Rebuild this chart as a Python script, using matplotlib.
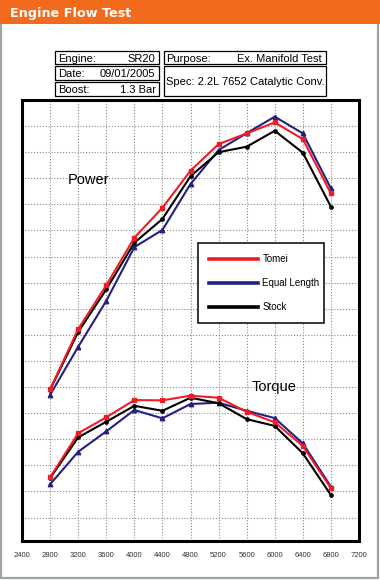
import matplotlib
matplotlib.use("Agg")
import matplotlib.pyplot as plt
from matplotlib.patches import Rectangle
from matplotlib.lines import Line2D

# engine speed (rpm) and readings (arbitrary units, one grid step = 10)
rpm = [2800, 3200, 3600, 4000, 4400, 4800, 5200, 5600, 6000, 6400, 6800]

power_tomei = [59.1, 82.2, 99.0, 117.2, 128.7, 142.9, 153.1, 157.2, 161.4, 155.0, 134.2]
power_equal = [57.0, 75.4, 93.0, 113.6, 120.2, 137.8, 150.8, 157.3, 163.6, 157.2, 136.1]
power_stock = [58.9, 81.1, 97.4, 115.3, 124.4, 140.8, 150.0, 152.1, 158.2, 149.8, 129.1]

torque_tomei = [25.4, 42.3, 48.4, 55.0, 54.9, 56.7, 55.9, 50.5, 46.5, 37.4, 21.2]
torque_equal = [22.7, 35.2, 43.0, 51.2, 48.0, 53.5, 54.0, 50.9, 48.1, 38.4, 21.8]
torque_stock = [25.1, 40.7, 46.7, 52.8, 50.9, 55.9, 53.8, 47.7, 45.1, 34.6, 18.6]

xticks = [2400, 2800, 3200, 3600, 4000, 4400, 4800, 5200, 5600, 6000, 6400, 6800, 7200]
series_names = ["Tomei", "Equal Length", "Stock"]

RED = "#ee1c25"
BLUE = "#23207f"
BLACK = "#000000"

plt.rcParams['font.family'] = ['Liberation Sans', 'DejaVu Sans']

W, H = 380, 580
fig = plt.figure(figsize=(W / 100, H / 100), dpi=100)

def fx(px):
    return px / W

def fy(py):
    return 1 - py / H

def box(x0, y0, x1, y1, lw=0.9):
    fig.patches.append(Rectangle((fx(x0), fy(y1)), fx(x1) - fx(x0), (y1 - y0) / H,
                                 transform=fig.transFigure, fill=False,
                                 edgecolor="black", lw=lw))

# outer gray border + orange header
fig.patches.append(Rectangle((fx(1), fy(578)), fx(378) - fx(1), (578 - 20) / H,
                             transform=fig.transFigure, fill=False,
                             edgecolor="#a0a4a8", lw=1.6))
fig.patches.append(Rectangle((0, fy(24)), 1, 24 / H, transform=fig.transFigure,
                             color="#f26b1d", lw=0))
fig.text(fx(9.5), fy(16.7), "Engine Flow Test", color="white", fontsize=9.2,
         fontweight="bold", va="baseline", family="DejaVu Sans")

# info boxes
box(54.5, 50.7, 159.3, 64.3)
box(54.5, 66.3, 159.3, 80.0)
box(54.5, 82.0, 159.3, 96.3)
box(164.0, 50.7, 326.3, 64.3)
box(164.0, 66.3, 326.3, 96.3)
fs = 8
fig.text(fx(58), fy(61.7), "Engine:", fontsize=fs, va="baseline")
fig.text(fx(155.5), fy(61.7), "SR20", fontsize=fs, va="baseline", ha="right")
fig.text(fx(58), fy(77.2), "Date:", fontsize=fs, va="baseline")
fig.text(fx(155.5), fy(77.2), "09/01/2005", fontsize=fs, va="baseline", ha="right")
fig.text(fx(58), fy(92.7), "Boost:", fontsize=fs, va="baseline")
fig.text(fx(155.5), fy(92.7), "1.3 Bar", fontsize=fs, va="baseline", ha="right")
fig.text(fx(166), fy(61.7), "Purpose:", fontsize=fs, va="baseline")
fig.text(fx(321.5), fy(61.7), "Ex. Manifold Test", fontsize=fs, va="baseline", ha="right")
fig.text(fx(166), fy(84.7), "Spec: 2.2L 7652 Catalytic Conv.", fontsize=fs, va="baseline")

# main chart
ax = fig.add_axes([fx(22), fy(541), fx(359) - fx(22), (541 - 100) / H])
ax.set_xlim(2400, 7200)
ax.set_ylim(1, 170)
ax.set_xticks(xticks)
ax.set_xticklabels([str(t) for t in xticks])
ax.set_yticks(range(10, 161, 10))
ax.set_yticklabels([])
ax.tick_params(length=0, labelsize=5.5, pad=8, labelcolor="#333333")
ax.grid(True, linestyle=(0, (1, 1.6)), color="#8a8a8a", lw=0.8)
for sp in ax.spines.values():
    sp.set_linewidth(2.2)

kw = dict(lw=1.5, ms=3.2)
ax.plot(rpm, power_equal, color=BLUE, marker="^", zorder=3, **kw)
ax.plot(rpm, power_stock, color=BLACK, marker="o", zorder=4, lw=1.5, ms=2.4)
ax.plot(rpm, power_tomei, color=RED, marker="s", zorder=5, **kw)
ax.plot(rpm, torque_equal, color=BLUE, marker="^", zorder=3, **kw)
ax.plot(rpm, torque_stock, color=BLACK, marker="o", zorder=4, lw=1.5, ms=2.4)
ax.plot(rpm, torque_tomei, color=RED, marker="s", zorder=5, **kw)

ax.text(3051, 138.0, "Power", fontsize=10.5, va="baseline")
ax.text(5672, 58.4, "Torque", fontsize=10.5, va="baseline")

handles = [Line2D([], [], color=c, lw=2.6) for c in (RED, BLUE, BLACK)]
leg = ax.legend(handles, series_names, loc="upper left",
                bbox_to_anchor=(0.523, 0.494, 0.372, 0.181), mode="expand",
                borderaxespad=0, fontsize=7, fancybox=False, framealpha=1,
                edgecolor="black", handlelength=5.0, handletextpad=0.5,
                labelspacing=1.45, borderpad=1.1)
leg.get_frame().set_linewidth(1.1)
leg.set_zorder(6)

fig.savefig("out.png", dpi=100)
